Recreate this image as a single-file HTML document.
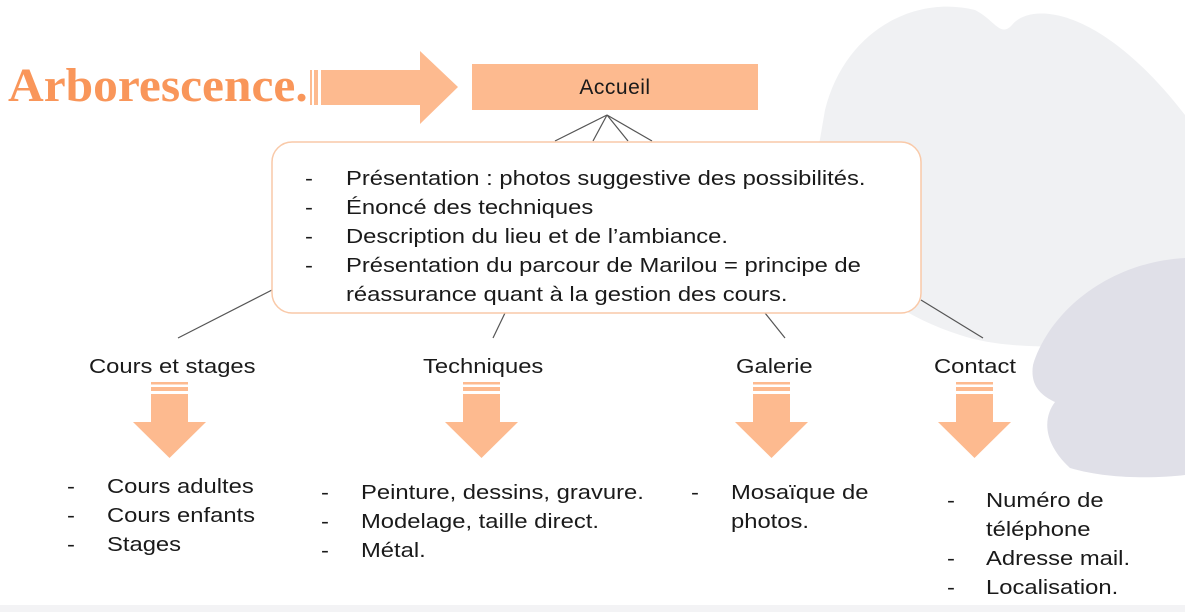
<!DOCTYPE html>
<html><head><meta charset="utf-8"><style>
body{margin:0;width:1185px;height:612px;overflow:hidden;background:#fff;position:relative;font-family:"Liberation Sans",Arial,sans-serif;color:#1a1a1a}
.t{position:absolute;font-size:20.5px;white-space:nowrap;line-height:29px;transform:scaleX(1.16);transform-origin:0 0}
</style></head><body>
<svg width="1185" height="612" style="position:absolute;left:0;top:0">
<path d="M825,110 C845,30 915,-5 975,10 C995,20 1000,38 1012,25 C1030,2 1100,5 1185,115 L1185,330 C1100,350 1010,352 960,335 C880,310 815,250 813,180 Z" fill="#f0f1f3"/>
<path d="M1185,258 C1110,262 1050,310 1033,365 C1030,385 1040,395 1055,402 C1045,415 1040,440 1070,468 C1110,480 1160,478 1185,475 Z" fill="#e0e0e8"/>
<rect x="0" y="605" width="1185" height="7" fill="#f3f3f5"/>
<rect x="310" y="70" width="2" height="35" fill="#fdba8f"/>
<rect x="314" y="70" width="4" height="35" fill="#fdba8f"/>
<polygon points="321,70 420,70 420,51 458,87 420,124 420,105 321,105" fill="#fdba8f"/>
<rect x="472" y="64" width="286" height="46" fill="#fdba8f"/>
<g stroke="#555" stroke-width="1.2">
<line x1="607" y1="115" x2="555" y2="141"/><line x1="607" y1="115" x2="593" y2="141"/>
<line x1="607" y1="115" x2="628" y2="141"/><line x1="607" y1="115" x2="652" y2="141"/>
<line x1="272" y1="290" x2="178" y2="338"/><line x1="505" y1="313" x2="493" y2="338"/>
<line x1="765" y1="313" x2="785" y2="338"/><line x1="921" y1="300" x2="983" y2="338"/>
</g>
<rect x="272" y="142" width="649" height="171" rx="20" fill="#fff" stroke="#f9c9a8" stroke-width="1.5"/>
<g fill="#fdba8f">
<g id="da"><rect x="151" y="382" width="37" height="2.5"/><rect x="151" y="387" width="37" height="4"/><rect x="151" y="394" width="37" height="29"/><polygon points="133,422 206,422 169.5,458"/></g>
<use href="#da" x="312"/><use href="#da" x="602"/><use href="#da" x="805"/>
</g>
</svg>
<div style="position:absolute;left:8px;top:58px;font-family:'Liberation Serif',serif;font-weight:bold;font-size:48px;color:#f9965a;transform:scaleX(1.03);transform-origin:0 0">Arborescence.</div>
<div style="position:absolute;left:472px;width:286px;text-align:center;top:73px;font-size:21px;line-height:29px;letter-spacing:0.5px">Accueil</div>
<div class="t" style="left:305px;top:164px">-</div><div class="t" style="left:346px;top:164px">Présentation : photos suggestive des possibilités.</div>
<div class="t" style="left:305px;top:193px">-</div><div class="t" style="left:346px;top:193px">Énoncé des techniques</div>
<div class="t" style="left:305px;top:222px">-</div><div class="t" style="left:346px;top:222px">Description du lieu et de l’ambiance.</div>
<div class="t" style="left:305px;top:251px">-</div><div class="t" style="left:346px;top:251px">Présentation du parcour de Marilou = principe de<br>réassurance quant à la gestion des cours.</div>
<div class="t" style="left:89px;top:352px">Cours et stages</div>
<div class="t" style="left:423px;top:352px">Techniques</div>
<div class="t" style="left:736px;top:352px">Galerie</div>
<div class="t" style="left:934px;top:352px">Contact</div>
<div class="t" style="left:67px;top:472px">-<br>-<br>-</div><div class="t" style="left:107px;top:472px">Cours adultes<br>Cours enfants<br>Stages</div>
<div class="t" style="left:321px;top:478px">-<br>-<br>-</div><div class="t" style="left:361px;top:478px">Peinture, dessins, gravure.<br>Modelage, taille direct.<br>Métal.</div>
<div class="t" style="left:691px;top:478px">-</div><div class="t" style="left:731px;top:478px">Mosaïque de<br>photos.</div>
<div class="t" style="left:947px;top:486px">-<br><br>-<br>-</div><div class="t" style="left:986px;top:486px">Numéro de<br>téléphone<br>Adresse mail.<br>Localisation.</div>
</body></html>
